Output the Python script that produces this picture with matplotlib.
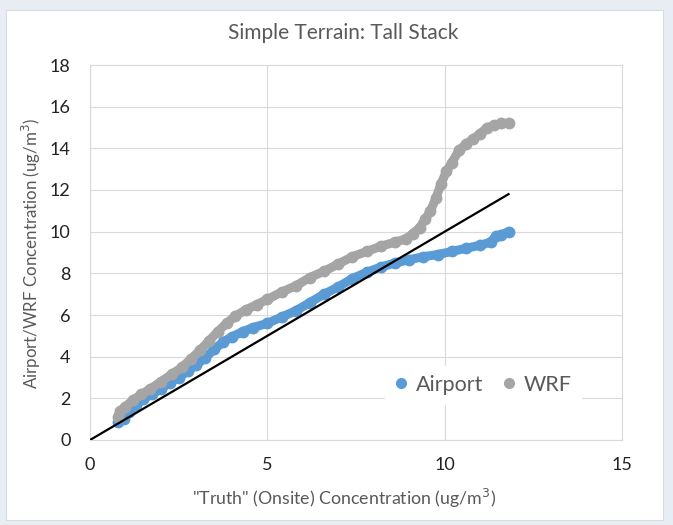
import matplotlib
matplotlib.use("Agg")
import matplotlib.pyplot as plt
from matplotlib.lines import Line2D
from matplotlib.patches import Rectangle

plt.rcParams["font.family"] = ["Lato", "DejaVu Sans"]

# Data (quantile-quantile pairs)
wrf_x = [0.78, 0.85, 1.0, 1.2, 1.45, 1.7, 2.0, 2.3, 2.6, 2.85, 3.1, 3.35, 3.6,
         3.85, 4.1, 4.4, 4.7, 5.0, 5.4, 5.8, 6.2, 6.6, 7.0, 7.4, 7.8, 8.2, 8.6,
         8.9, 9.1, 9.3, 9.45, 9.6, 9.75, 9.9, 10.05, 10.2, 10.4, 10.6, 10.8,
         11.0, 11.2, 11.4, 11.6, 11.8]
wrf_y = [1.1, 1.4, 1.6, 1.9, 2.2, 2.45, 2.8, 3.15, 3.5, 3.9, 4.3, 4.75, 5.2,
         5.6, 5.95, 6.25, 6.5, 6.75, 7.1, 7.4, 7.8, 8.1, 8.45, 8.8, 9.05, 9.3,
         9.5, 9.65, 9.9, 10.2, 10.6, 11.0, 11.6, 12.3, 12.9, 13.3, 13.9, 14.2,
         14.45, 14.7, 15.0, 15.1, 15.2, 15.2]

airport_x = [0.8, 0.95, 1.1, 1.3, 1.5, 1.75, 2.0, 2.25, 2.5, 2.75, 3.0, 3.25,
             3.5, 3.75, 4.0, 4.3, 4.6, 5.0, 5.4, 5.8, 6.2, 6.6, 7.0, 7.4, 7.8,
             8.2, 8.6, 9.0, 9.4, 9.8, 10.2, 10.6, 11.0, 11.3, 11.45, 11.6, 11.8]
airport_y = [0.85, 1.0, 1.35, 1.7, 1.95, 2.2, 2.45, 2.75, 3.0, 3.3, 3.6, 3.95,
             4.35, 4.7, 4.95, 5.2, 5.4, 5.6, 5.9, 6.2, 6.6, 7.0, 7.35, 7.75,
             8.05, 8.3, 8.5, 8.65, 8.8, 8.9, 9.05, 9.2, 9.35, 9.5, 9.8, 9.85,
             10.0]

# 1:1 reference line
ref_x = [0, 11.8]
ref_y = [0, 11.8]

x_ticks = [0, 5, 10, 15]
y_ticks = [0, 2, 4, 6, 8, 10, 12, 14, 16, 18]

BLUE = "#5b9bd5"
GRAY = "#a5a5a5"
TEXT = "#595959"
GRID = "#d9d9d9"

fig = plt.figure(figsize=(6.73, 5.25), dpi=100, facecolor="#e8edf4")
fig.patches.append(Rectangle((6 / 673, 5 / 525), 657 / 673, 510 / 525,
                             transform=fig.transFigure, facecolor="white",
                             edgecolor="#d6dbe2", linewidth=0.8, zorder=-10))

ax = fig.add_axes([90 / 673, 85 / 525, 532 / 673, 375 / 525])
ax.set_zorder(2)
ax.set_facecolor("white")

ax.plot(airport_x, airport_y, "-o", color=BLUE, lw=6.5, ms=7.5,
        solid_capstyle="round", solid_joinstyle="round", zorder=3)
ax.plot(wrf_x, wrf_y, "-o", color=GRAY, lw=6.5, ms=7.5,
        solid_capstyle="round", solid_joinstyle="round", zorder=3)
ax.plot(ref_x, ref_y, color="black", lw=1.6, zorder=4)

ax.set_xlim(0, 15)
ax.set_ylim(0, 18)
ax.set_xticks(x_ticks)
ax.set_yticks(y_ticks)
ax.grid(True, color=GRID, lw=0.8)
ax.set_axisbelow(True)
for s in ax.spines.values():
    s.set_color(GRID)
    s.set_linewidth(0.8)
ax.tick_params(length=0, labelsize=13, labelcolor="#222222")
ax.tick_params(axis="y", pad=14)
ax.tick_params(axis="x", pad=12)

fig.text(343 / 673, 1 - 33 / 525, "Simple Terrain: Tall Stack", fontsize=15,
         color=TEXT, ha="center", va="center")
ax.set_xlabel('"Truth" (Onsite) Concentration (ug/m$^3$)', fontsize=12.8,
              color=TEXT)
ax.xaxis.set_label_coords((344 - 90) / 532, -(487 - 440) / 375)
ax.set_ylabel("Airport/WRF Concentration (ug/m$^3$)", fontsize=12.2,
              color=TEXT)
ax.yaxis.set_label_coords(-(90 - 43) / 532, (440 - 253) / 375)

handles = [Line2D([], [], ls="", marker="o", ms=7, color=BLUE),
           Line2D([], [], ls="", marker="o", ms=7, color=GRAY)]
leg = ax.legend(handles, ["Airport", "WRF"], loc="center",
                bbox_to_anchor=((483 - 90) / 532, (440 - 385) / 375), ncol=2,
                frameon=True, fontsize=15.5, handlelength=0.6,
                handletextpad=0.4, columnspacing=0.9, borderpad=0.4)
leg.get_frame().set_edgecolor("white")
leg.get_frame().set_alpha(1)
for t in leg.get_texts():
    t.set_color(TEXT)

fig.savefig("out.png", dpi=100, facecolor=fig.get_facecolor())
